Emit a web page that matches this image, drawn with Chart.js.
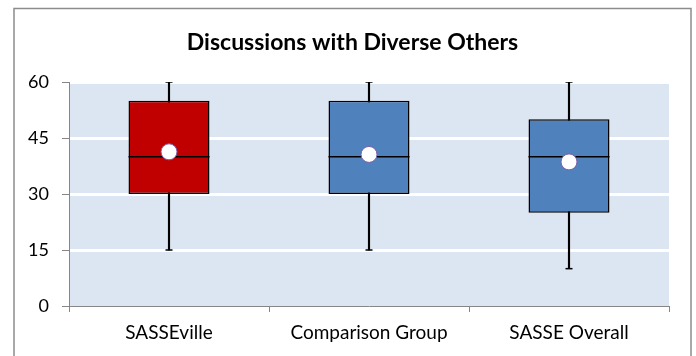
<!DOCTYPE html>
<html>
<head>
<meta charset="utf-8">
<script src="https://cdn.jsdelivr.net/npm/chart.js@4/dist/chart.umd.min.js"></script>
<style>
  html, body { margin: 0; padding: 0; background: #fff; }
  #wrap { width: 696px; height: 356px; position: relative; }
</style>
</head>
<body>
<div id="wrap"><canvas id="c" width="696" height="356"></canvas></div>
<script>
// Box-plot summary per group
const categories = ['SASSEville', 'Comparison Group', 'SASSE Overall'];
const minValues    = [15, 15, 10];
const q1Values     = [30, 30, 25];
const medianValues = [40, 40, 40];
const q3Values     = [55, 55, 50];
const maxValues    = [60, 60, 60];
const meanValues   = [41.3, 40.6, 38.6];
const boxColors    = ['#C00000', '#4F81BD', '#4F81BD'];
const yTicks       = [0, 15, 30, 45, 60];

const FONT = 'Lato';
const GREY = '#868686';

// Plot-area fill, outer frame, and room for the y tick labels
const framePlugin = {
  id: 'frame',
  afterLayout(chart) {
    // let the y labels extend left of the axis box without being clipped
    chart.scales.y.left = 0;
  },
  beforeDraw(chart) {
    const { ctx, chartArea: a } = chart;
    ctx.save();
    ctx.fillStyle = '#DCE6F2';
    ctx.fillRect(a.left, a.top, a.right - a.left, a.bottom - a.top);
    ctx.restore();
  },
  afterDraw(chart) {
    const { ctx } = chart;
    ctx.save();
    ctx.strokeStyle = '#8C8C8C';
    ctx.lineWidth = 1.5;
    ctx.strokeRect(14, 8.5, 677, 400);
    ctx.restore();
  }
};

const lineMarks = (data, radius, order) => ({
  type: 'line',
  data,
  showLine: false,
  pointStyle: 'line',
  pointRadius: radius,
  pointHoverRadius: radius,
  borderColor: '#000',
  borderWidth: 1.5,
  order
});

new Chart(document.getElementById('c'), {
  type: 'bar',
  data: {
    labels: categories,
    datasets: [
      {
        type: 'line',
        data: meanValues,
        showLine: false,
        pointStyle: 'circle',
        pointRadius: 8,
        pointHoverRadius: 8,
        pointBackgroundColor: '#FFFFFF',
        pointBorderColor: '#7B5FA8',
        pointBorderWidth: 1,
        order: 0
      },
      lineMarks(medianValues, 40.5, 1),
      lineMarks(minValues, 3.5, 2),
      lineMarks(maxValues, 3.5, 2),
      {
        data: categories.map((_, i) => [q1Values[i], q3Values[i]]),
        backgroundColor: boxColors,
        borderColor: '#000',
        borderWidth: 1.5,
        borderSkipped: false,
        barPercentage: 0.405,
        categoryPercentage: 1,
        grouped: false,
        order: 3
      },
      {
        data: categories.map((_, i) => [minValues[i], maxValues[i]]),
        backgroundColor: '#000',
        borderWidth: 0,
        barThickness: 1.5,
        grouped: false,
        order: 4
      }
    ]
  },
  options: {
    responsive: false,
    animation: false,
    events: [],
    layout: { autoPadding: false, padding: { left: 36, right: 27, top: 0, bottom: 0 } },
    plugins: {
      legend: { display: false },
      tooltip: { enabled: false },
      title: {
        display: true,
        text: 'Discussions with Diverse Others',
        color: '#000',
        font: { family: FONT, size: 23, weight: 'bold', lineHeight: 1.2 },
        padding: { top: 29, bottom: 25.4 }
      }
    },
    scales: {
      x: {
        offset: true,
        afterFit(scale) {
          scale.height = 50;
          scale.paddingLeft = 0;
          scale.paddingRight = 0;
        },
        grid: {
          offset: true,
          drawOnChartArea: false,
          color: GREY,
          tickColor: GREY,
          tickLength: 6,
          lineWidth: 1
        },
        border: { color: GREY, width: 1 },
        ticks: {
          color: '#000',
          padding: 9,
          font: { family: FONT, size: 19 }
        }
      },
      y: {
        min: 0,
        max: 60,
        afterFit(scale) { scale.width = 33; },
        afterBuildTicks(scale) { scale.ticks = yTicks.map(v => ({ value: v })); },
        grid: {
          color: ctx => (ctx.tick && ctx.tick.value === 0 ? 'rgba(0,0,0,0)' : '#FFFFFF'),
          lineWidth: 3,
          tickColor: GREY,
          tickLength: 7,
          tickWidth: 1
        },
        border: { color: GREY, width: 1 },
        ticks: {
          color: '#000',
          padding: 13,
          font: { family: FONT, size: 18 }
        }
      }
    }
  },
  plugins: [framePlugin]
});
</script>
</body>
</html>
